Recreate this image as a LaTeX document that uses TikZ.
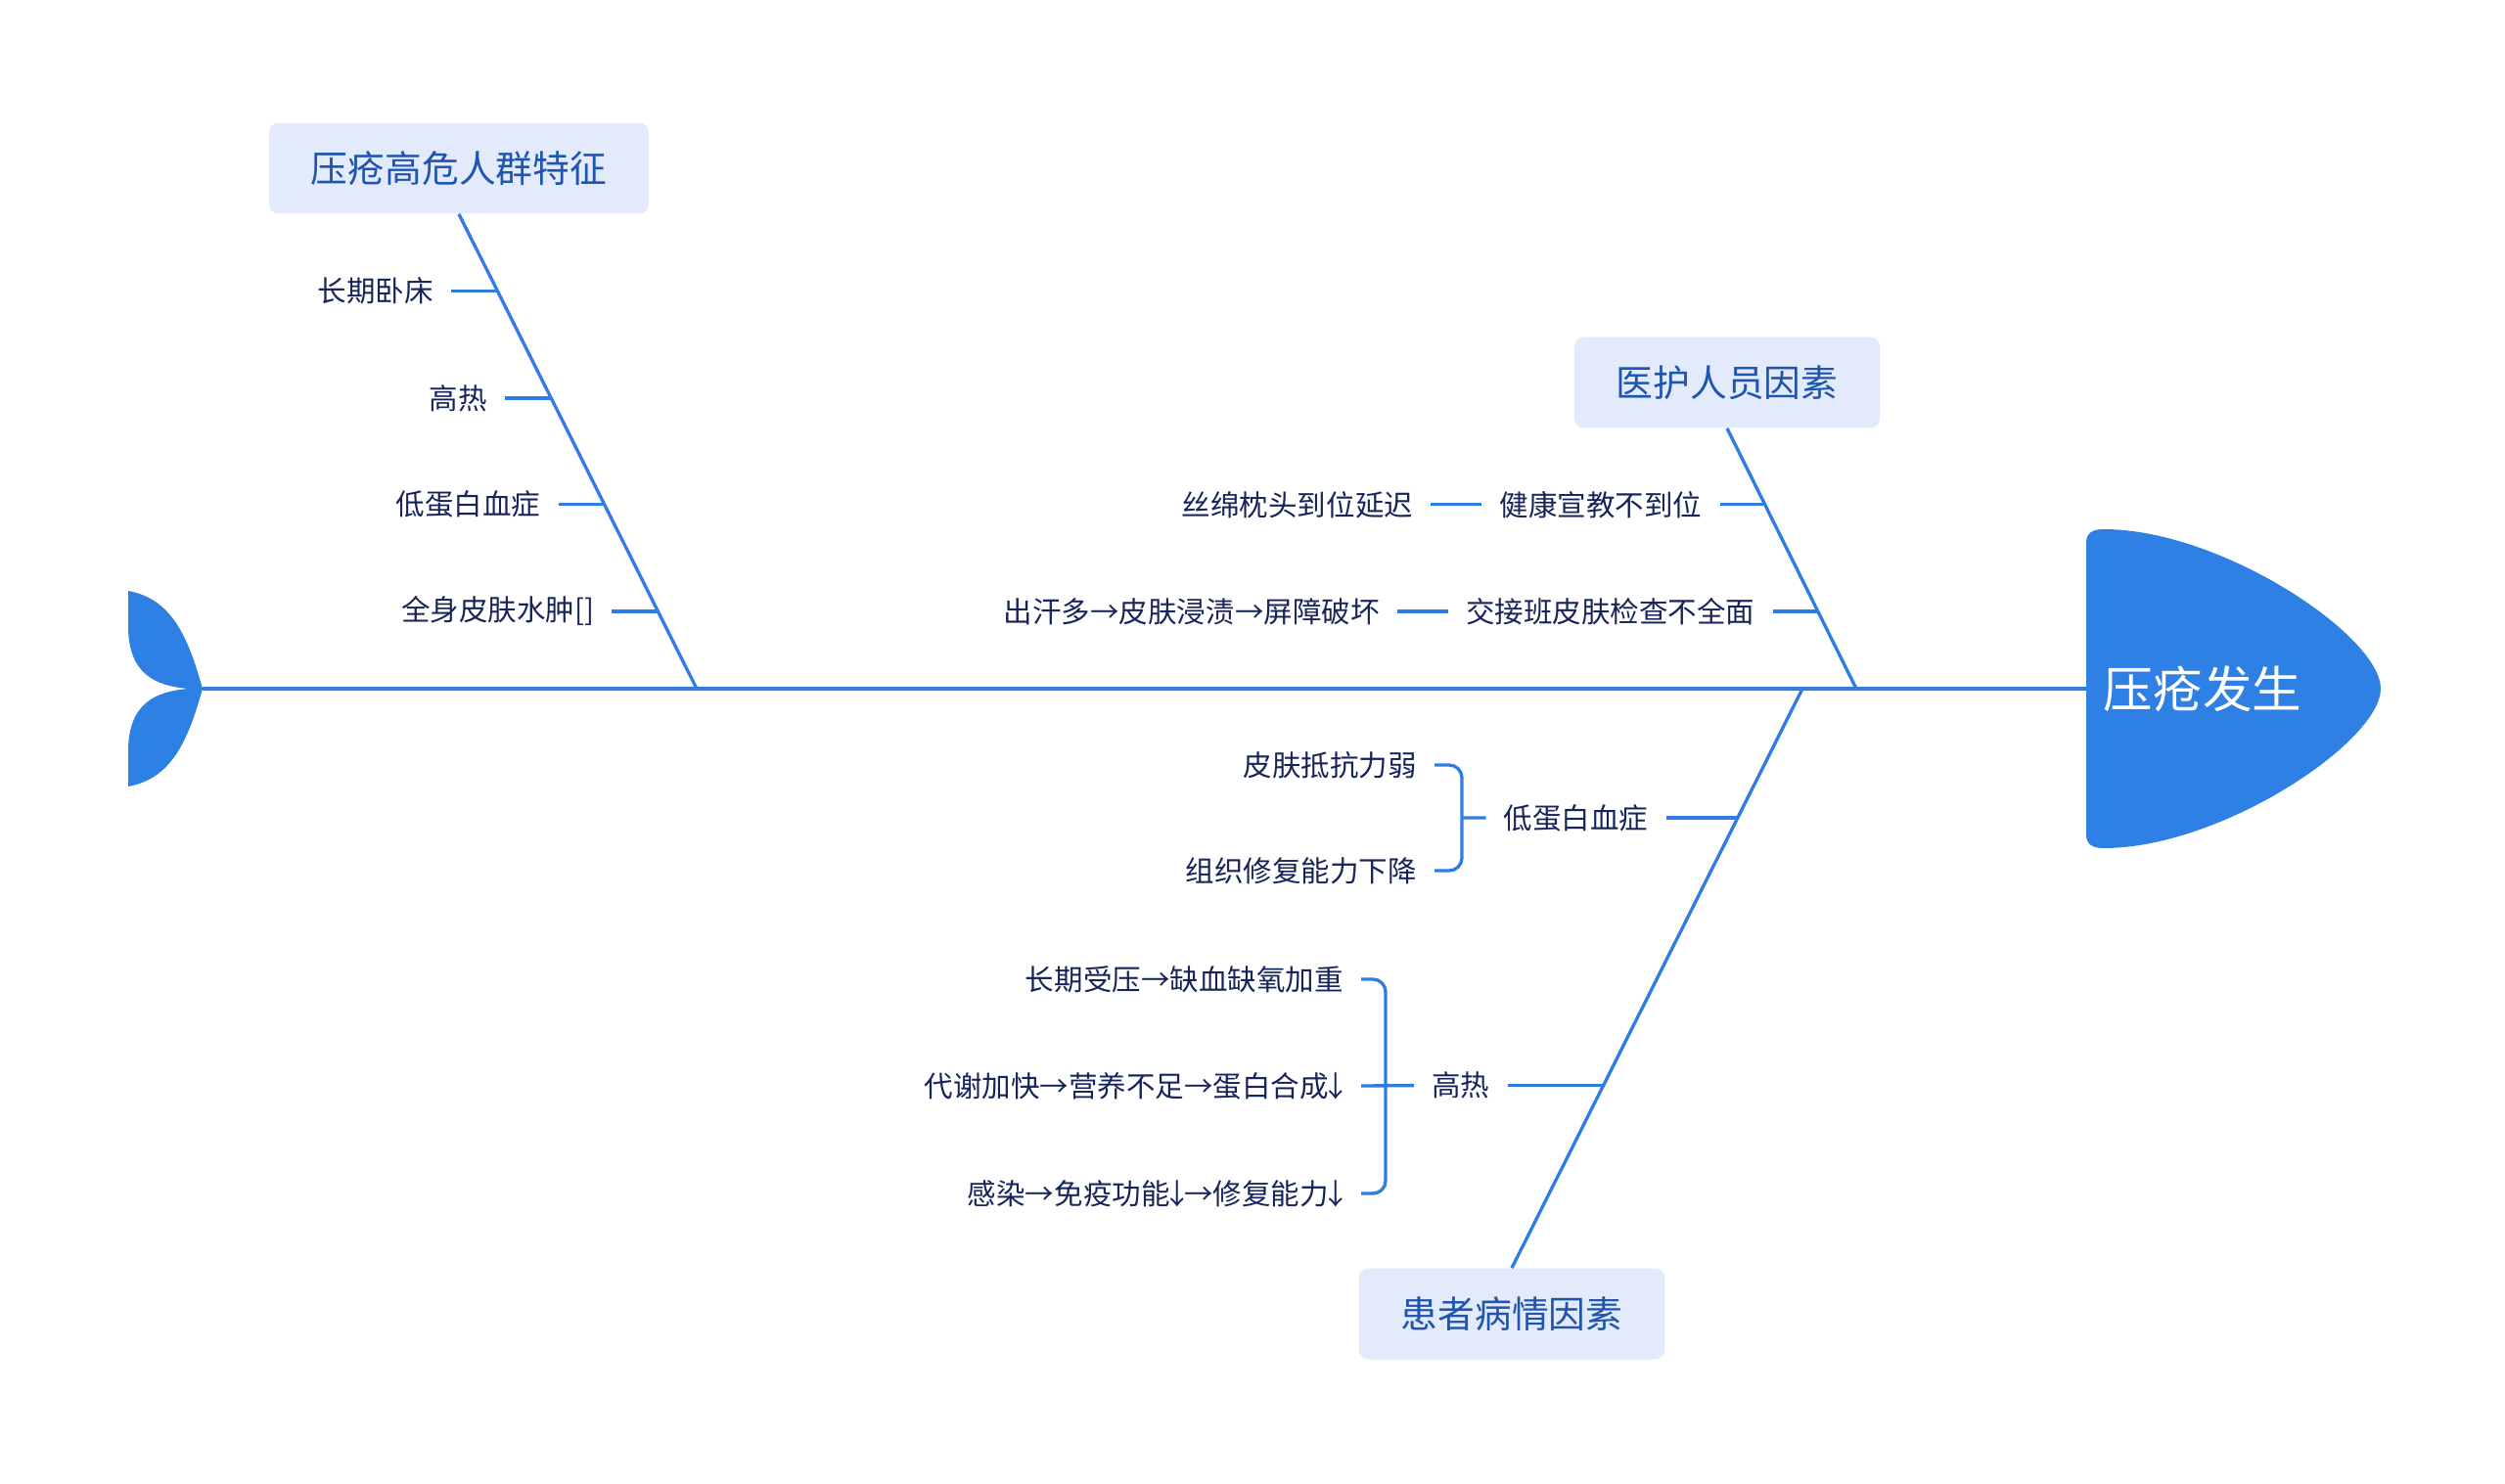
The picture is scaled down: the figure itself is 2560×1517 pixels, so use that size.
\documentclass[tikz,border=0pt]{standalone}
\usepackage{fontspec}
\setmainfont{Noto Sans CJK SC}
\usetikzlibrary{positioning}
\definecolor{bonecol}{HTML}{2F7DE1}
\definecolor{headcol}{HTML}{2F80E5}
\definecolor{boxfill}{HTML}{E3EAFB}
\definecolor{boxtext}{HTML}{1F55AE}
\definecolor{itemtext}{HTML}{17245A}
\newcommand\dnarr{\makebox[0.5em]{↓}}
\tikzset{
  bone/.style={draw=bonecol, line width=1.9pt},
  brace/.style={bone, rounded corners=0.26cm},
  cat/.style={fill=boxfill, rounded corners=0.2cm, minimum height=1.86cm, inner xsep=0.86cm, text=boxtext, font=\fontsize{21.5}{26}\selectfont},
  item/.style={inner xsep=0.36cm, inner ysep=0pt, text=itemtext, font=\fontsize{16.8}{20}\selectfont},
}
\begin{document}
\begin{tikzpicture}[x=0.02cm, y=-0.02cm]
\useasboundingbox (0,0) rectangle (2560,1517);
% tail and head
\fill[headcol] (207,704) .. controls (192,650) and (175,612) .. (131,604) -- (131,640) .. controls (131,690) and (160,701) .. (192,704) .. controls (160,707) and (131,718) .. (131,768) -- (131,804) .. controls (175,796) and (192,758) .. (207,704) -- cycle;
\fill[headcol] (2132,555) .. controls (2132,545) and (2138,541) .. (2150,541) .. controls (2270,541) and (2433,650) .. (2433,704) .. controls (2433,758) and (2270,867) .. (2150,867) .. controls (2138,867) and (2132,863) .. (2132,853) -- cycle;
\node[text=white, font=\fontsize{28.8}{34}\selectfont] (effect) at (2251,704) {压疮发生};
\coordinate (tail) at (207,704);
\coordinate (headL) at (2132,704);
\draw[bone] (tail) -- (headL);
% spine points
\coordinate (s1) at (712,704);
\coordinate (s2) at (1897,704);
\coordinate (s3) at (1842,704);
% categories
\node[cat] (risk) at (469,172) {压疮高危人群特征};
\node[cat] (staff) at (1765,391) {医护人员因素};
\node[cat] (patient) at (1545,1343) {患者病情因素};
\draw[bone] (risk.south) -- coordinate[pos=.162] (r1) coordinate[pos=.388] (r2) coordinate[pos=.612] (r3) coordinate[pos=.837] (r4) (s1);
\draw[bone] (staff.south) -- coordinate[pos=.293] (t1) coordinate[pos=.703] (t2) (s2);
\draw[bone] (patient.north) -- coordinate[pos=.315] (q1) coordinate[pos=.777] (q2) (s3);
% high risk group
\node[item, anchor=east] (bed) at ([xshift=-0.94cm]r1) {长期卧床};
\node[item, anchor=east] (fever) at ([xshift=-0.94cm]r2) {高热};
\node[item, anchor=east] (lowpro) at ([xshift=-0.94cm]r3) {低蛋白血症};
\node[item, anchor=east] (edema) at ([xshift=-0.94cm]r4) {全身皮肤水肿[]};
\draw[bone] (bed.east) -- (r1);
\draw[bone] (fever.east) -- (r2);
\draw[bone] (lowpro.east) -- (r3);
\draw[bone] (edema.east) -- (r4);
% staff
\node[item, anchor=east] (edu) at ([xshift=-0.92cm]t1) {健康宣教不到位};
\node[item, left=1.04cm of edu] (pillow) {丝绵枕头到位延迟};
\node[item, anchor=east] (shift) at ([xshift=-0.92cm]t2) {交接班皮肤检查不全面};
\node[item, left=1.04cm of shift] (sweat) {出汗多→皮肤浸渍→屏障破坏};
\draw[bone] (edu.east) -- (t1);
\draw[bone] (pillow.east) -- (edu.west);
\draw[bone] (shift.east) -- (t2);
\draw[bone] (sweat.east) -- (shift.west);
% patient
\node[item, anchor=east] (hypo) at ([xshift=-1.46cm]q2) {低蛋白血症};
\node[item, anchor=east] (hot) at ([xshift=-1.96cm]q1) {高热};
\draw[bone] (hypo.east) -- (q2);
\draw[bone] (hot.east) -- (q1);
\coordinate (k2) at (1494,836);
\node[item, anchor=east] (weak) at (1466,782) {皮肤抵抗力弱};
\node[item, anchor=east] (repair) at (1466,890) {组织修复能力下降};
\draw[brace] (weak.east) -| (k2) |- (repair.east);
\draw[bone] (k2) -- (hypo.west);
\coordinate (k3) at (1416,1110);
\node[item, anchor=east] (press) at (1391,1001) {长期受压→缺血缺氧加重};
\node[item, anchor=east] (meta) at (1391,1110) {代谢加快→营养不足→蛋白合成\dnarr};
\node[item, anchor=east] (infect) at (1391,1220) {感染→免疫功能\dnarr→修复能力\dnarr};
\draw[brace] (press.east) -| (k3) |- (infect.east);
\draw[bone] (meta.east) -- (hot.west);
\end{tikzpicture}
\end{document}
